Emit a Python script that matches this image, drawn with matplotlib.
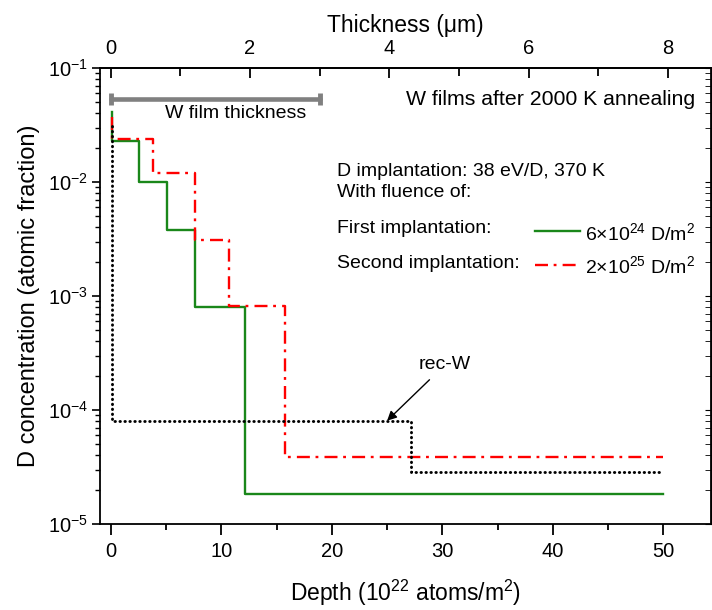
import matplotlib
matplotlib.use('Agg')
import matplotlib.pyplot as plt
from matplotlib.ticker import MultipleLocator, LogLocator, NullFormatter, FixedLocator

plt.rcParams['font.family'] = ['Liberation Sans', 'DejaVu Sans']
plt.rcParams['mathtext.fontset'] = 'custom'
plt.rcParams['mathtext.rm'] = 'Liberation Sans'
plt.rcParams['mathtext.it'] = 'Liberation Sans:italic'
plt.rcParams['mathtext.bf'] = 'Liberation Sans:bold'

# step profiles, depth in 1e22 atoms/m2, concentration in atomic fraction
first_depth = [0.1, 0.1, 2.6, 5.1, 7.66, 12.15, 50]
first_conc = [0.041, 0.023, 0.0099, 0.0038, 0.00080, 1.83e-5, 1.83e-5]

second_depth = [0.15, 0.15, 3.8, 7.66, 10.7, 15.75, 50]
second_conc = [0.037, 0.0238, 0.0121, 0.0031, 0.00082, 3.85e-5, 3.85e-5]

recw_depth = [0.1, 0.1, 27.2, 50]
recw_conc = [0.031, 8.05e-5, 2.86e-5, 2.86e-5]

film_thickness_um = 3.0
depth_per_um = 6.3  # 1e22 atoms/m2 per micron of W
thickness_ticks = [0, 2, 4, 6, 8]

TXT = 14
dashdot = (0, (5.5, 2.4, 1.2, 2.6))

fig = plt.figure(figsize=(7.12, 6.1), dpi=100)
ax = fig.add_axes([100 / 712, 86 / 610, 611 / 712, 456 / 610])

ax.plot(first_depth, first_conc, drawstyle='steps-post', color='#1a871a', lw=1.7)
ax.plot(second_depth, second_conc, drawstyle='steps-post', color='#ff0000', lw=1.7,
        linestyle=dashdot)
ax.plot(recw_depth, recw_conc, drawstyle='steps-post', color='black', lw=2.1,
        linestyle=(0, (0.15, 1.55)), dash_capstyle='round')

ax.set_yscale('log')
ax.set_ylim(1e-5, 1e-1)
ax.set_xlim(-0.97, 54.3)

ax.xaxis.set_major_locator(MultipleLocator(10))
ax.xaxis.set_minor_locator(MultipleLocator(5))
ax.yaxis.set_minor_locator(LogLocator(base=10, subs=range(2, 10)))
ax.yaxis.set_minor_formatter(NullFormatter())

ax.tick_params(axis='x', which='major', direction='out', length=8, width=1.3,
               labelsize=14.5, pad=5, top=False)
ax.tick_params(axis='x', which='minor', direction='out', length=4.5, width=1.3, top=False)
ax.tick_params(axis='y', which='major', direction='out', length=5.5, width=1.2,
               labelsize=14.5, pad=3, right=False)
ax.tick_params(axis='y', which='minor', direction='out', length=3.5, width=1.0, right=False)
for s in ax.spines.values():
    s.set_linewidth(1.3)

# top axis in microns
top = ax.secondary_xaxis('top', functions=(lambda d: d / depth_per_um,
                                           lambda t: t * depth_per_um))
top.xaxis.set_major_locator(FixedLocator(thickness_ticks))
top.xaxis.set_minor_locator(FixedLocator(range(0, 9)))
top.tick_params(which='major', direction='in', length=7, width=1.3, labelsize=14.5, pad=7)
top.tick_params(which='minor', direction='in', length=6, width=1.3)
top.spines['top'].set_linewidth(1.3)
top.set_xlabel('Thickness (\u03bcm)', fontsize=16.5, labelpad=5)

right = ax.secondary_yaxis('right')
right.tick_params(which='both', direction='in', labelright=False, length=4)

ax.set_xlabel('Depth (10$^{22}$ atoms/m$^{2}$)', fontsize=16.5, labelpad=12)
ax.set_ylabel('D concentration (atomic fraction)', fontsize=17, labelpad=6)

# film thickness bar
bar_x = [0, film_thickness_um * depth_per_um]
ax.plot(bar_x, [0.054, 0.054], color='#808080', lw=3.3, solid_capstyle='round',
        marker='|', ms=9, mew=3.5)
ax.text(0.2226, 0.901, 'W film thickness', transform=ax.transAxes,
        ha='center', va='center', fontsize=TXT)

ax.text(0.974, 0.930, 'W films after 2000 K annealing', transform=ax.transAxes,
        ha='right', va='center', fontsize=15.3)
ax.text(0.388, 0.774, 'D implantation: 38 eV/D, 370 K', transform=ax.transAxes,
        ha='left', va='center', fontsize=TXT)
ax.text(0.388, 0.726, 'With fluence of:', transform=ax.transAxes,
        ha='left', va='center', fontsize=TXT)
ax.text(0.388, 0.649, 'First implantation:', transform=ax.transAxes,
        ha='left', va='center', fontsize=TXT)
ax.text(0.388, 0.572, 'Second implantation:', transform=ax.transAxes,
        ha='left', va='center', fontsize=TXT)

# legend samples
ax.plot([0.712, 0.786], [0.6425, 0.6425], transform=ax.transAxes,
        color='#1a871a', lw=1.7)
ax.plot([0.712, 0.786], [0.568, 0.568], transform=ax.transAxes,
        color='#ff0000', lw=1.7, linestyle=dashdot)
ax.text(0.794, 0.642, r'6$\times$10$^{24}$ D/m$^{2}$', transform=ax.transAxes,
        ha='left', va='center_baseline', fontsize=TXT)
ax.text(0.794, 0.570, r'2$\times$10$^{25}$ D/m$^{2}$', transform=ax.transAxes,
        ha='left', va='center_baseline', fontsize=TXT)

ax.annotate('rec-W', xy=(25.0, 8.05e-5), xytext=(30.25, 2.5e-4),
            ha='center', va='center', fontsize=TXT,
            arrowprops=dict(arrowstyle='-|>', color='black', lw=1.0,
                            mutation_scale=14, shrinkA=4, shrinkB=0))

fig.savefig('out.png', dpi=100)
